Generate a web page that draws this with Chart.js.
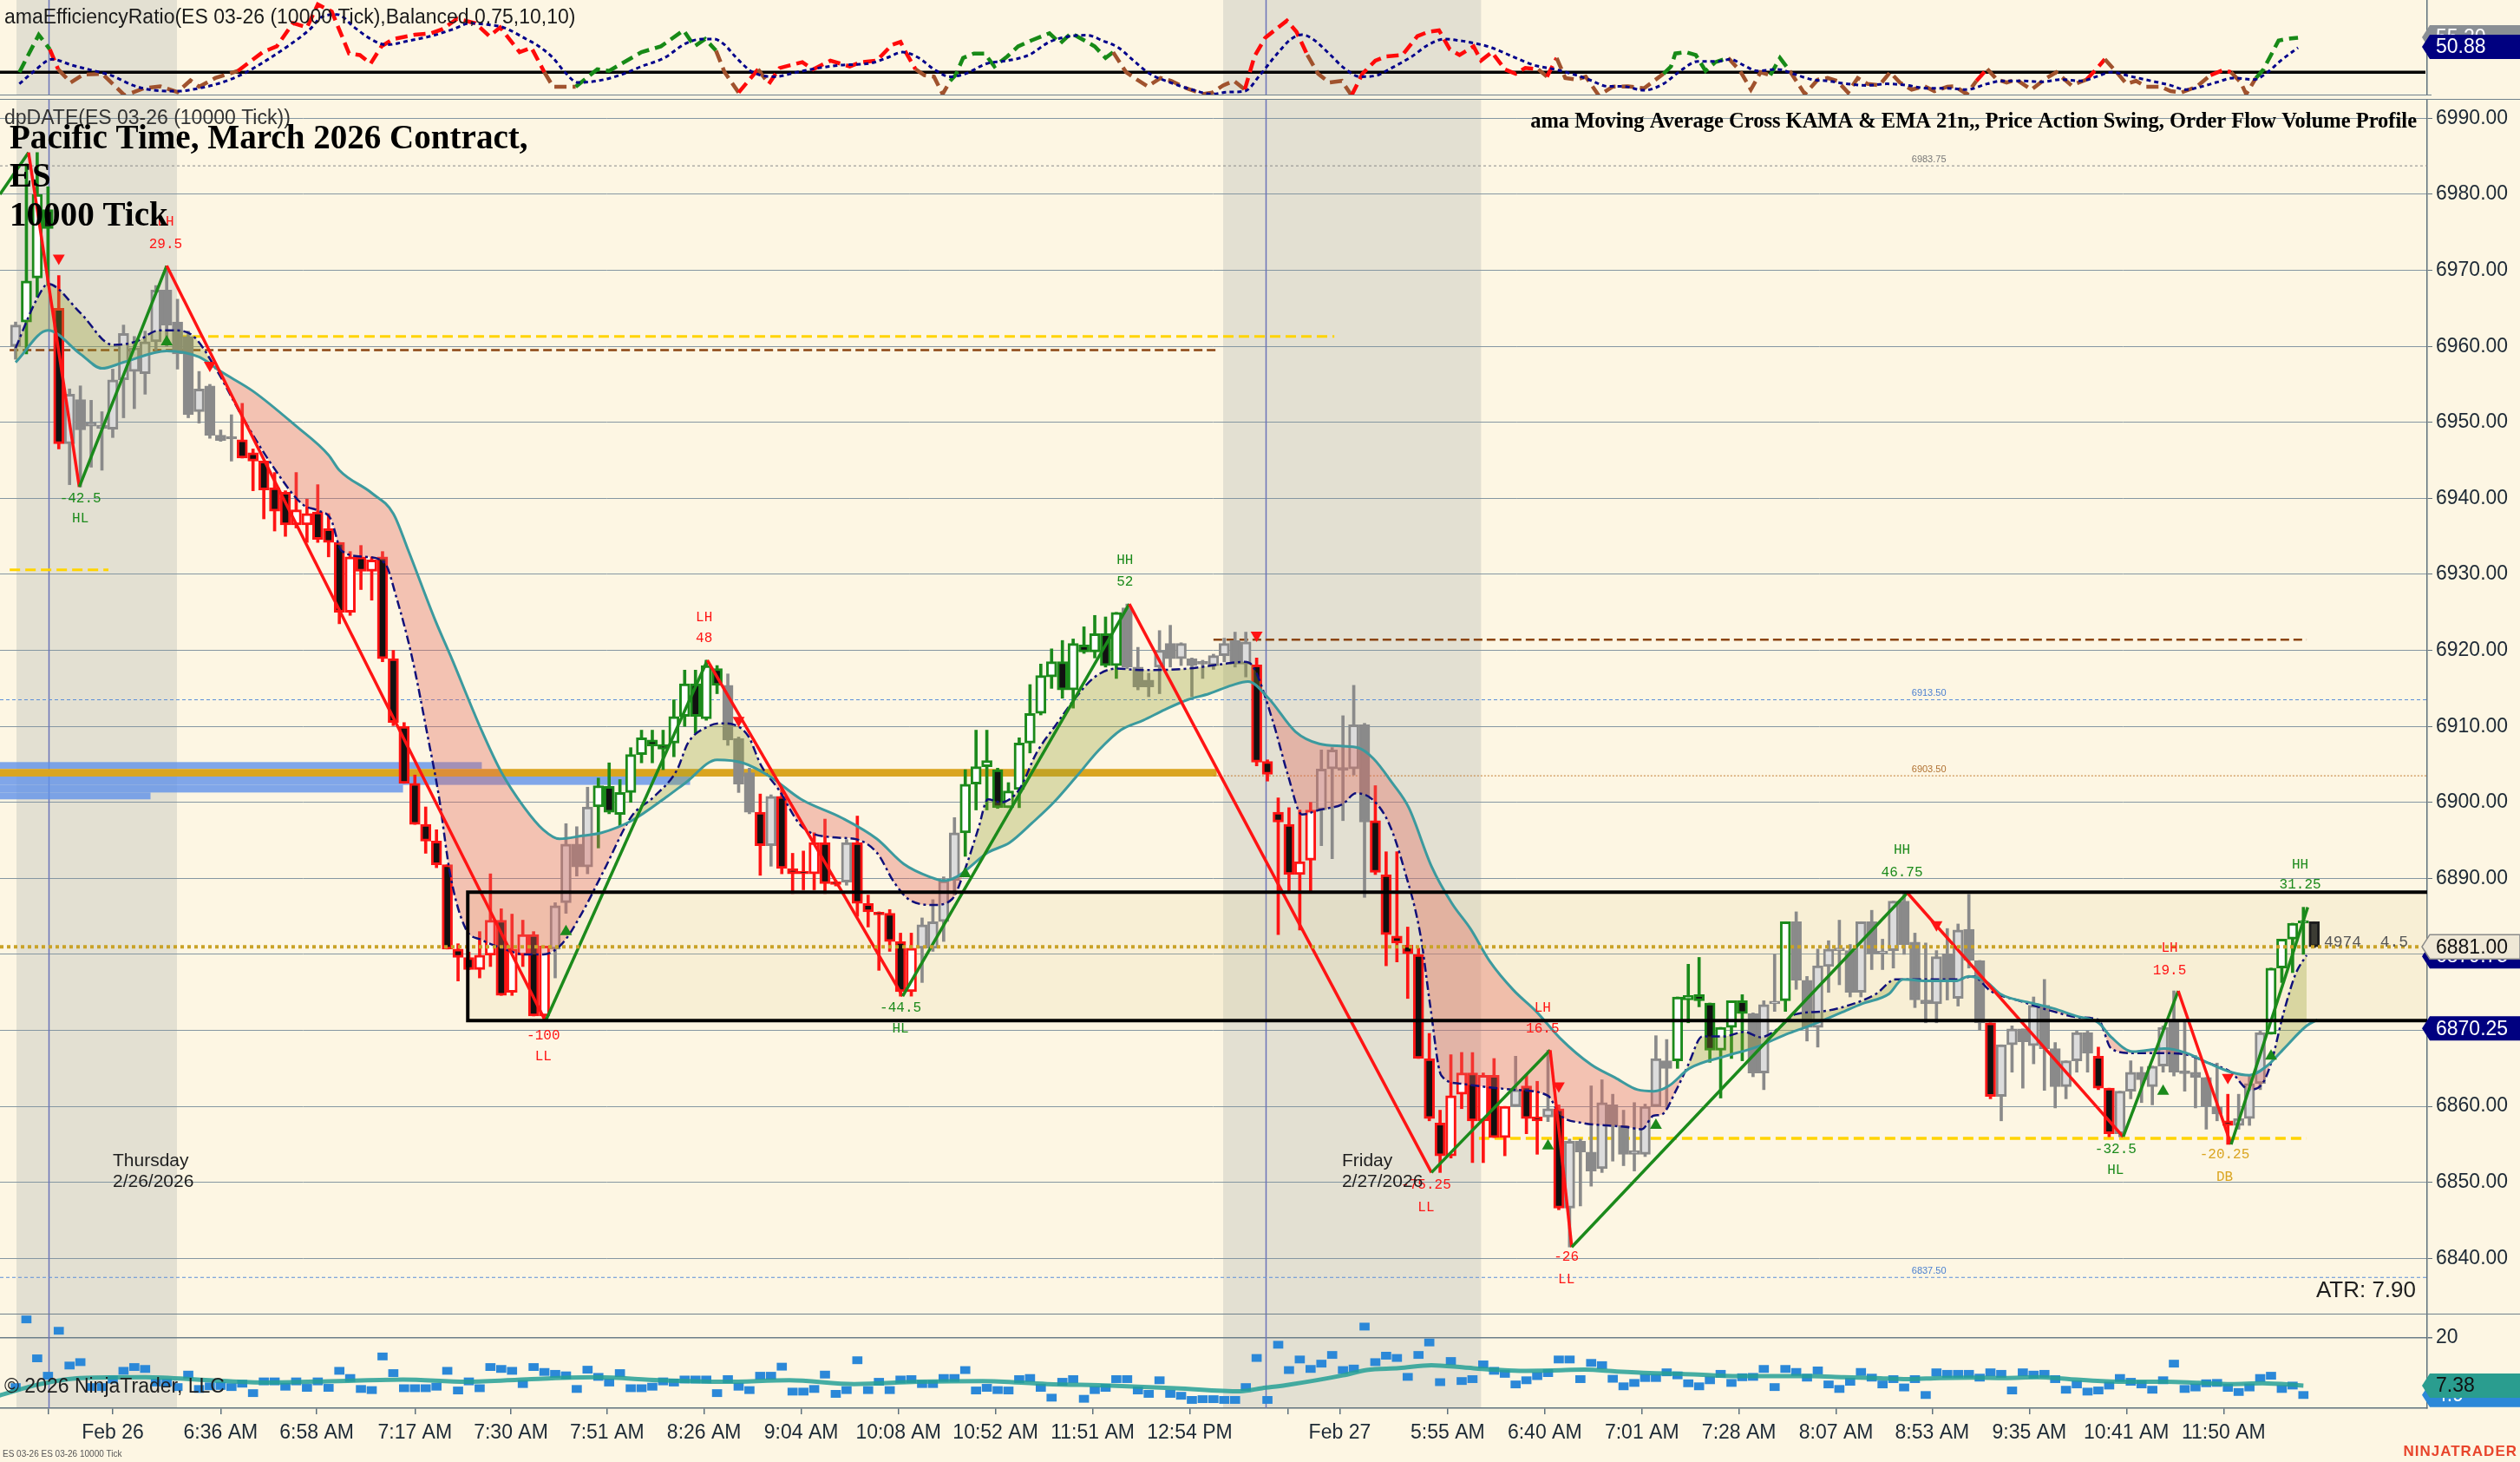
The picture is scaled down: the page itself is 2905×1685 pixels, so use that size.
<!DOCTYPE html>
<html>
<head>
<meta charset="utf-8">
<title>ES 03-26 10000 Tick</title>
<script src="https://cdn.jsdelivr.net/npm/chart.js@4.4.1/dist/chart.umd.min.js"></script>
<style>
  html, body { margin: 0; padding: 0; background: #fdf6e3; overflow: hidden; }
  #wrap { position: relative; width: 2905px; height: 1685px; }
  #wrap canvas { position: absolute; left: 0; }
  .sep { position: absolute; left: 0; height: 1px; background: #6f818c; }
</style>
</head>
<body>
<div id="wrap">
  <canvas id="erChart" width="2905" height="110" style="top:0px"></canvas>
  <canvas id="priceChart" width="2905" height="1400" style="top:115px"></canvas>
  <canvas id="volChart" width="2905" height="170" style="top:1515px"></canvas>
  <div class="sep" style="top:109px;width:2803px"></div>
  <div class="sep" style="top:114px;width:2905px"></div>
  <div class="sep" style="top:1514px;width:2905px"></div>
</div>
<script>
// ---------- data (bar index 0 = first bar on screen) ----------
const openP = [
  6960.0,6963.2,6969.0,6978.0,6965.0,6947.2,6953.0,6949.5,6949.2,6949.1,
  6955.6,6956.7,6956.4,6960.6,6967.4,6963.2,6961.3,6951.4,6954.8,6948.3,
  6948.0,6947.7,6946.0,6944.9,6941.4,6940.8,6936.5,6936.5,6938.2,6936.0,
  6934.2,6925.0,6932.3,6930.4,6932.3,6918.9,6910.0,6902.5,6897.1,6894.9,
  6891.8,6880.7,6879.6,6878.0,6879.9,6884.5,6875.0,6879.9,6882.6,6871.9,
  6880.7,6886.8,6894.5,6891.5,6899.4,6902.1,6898.4,6901.3,6906.3,6908.2,
  6907.6,6907.8,6911.3,6915.6,6911.0,6917.6,6915.4,6908.4,6903.9,6898.7,
  6894.3,6900.8,6891.3,6890.8,6890.6,6894.7,6889.5,6889.5,6894.7,6886.7,
  6885.4,6885.4,6881.7,6875.1,6880.8,6880.8,6884.3,6889.7,6896.0,6902.4,
  6904.7,6904.3,6899.3,6901.7,6907.8,6911.7,6916.5,6918.5,6914.8,6920.7,
  6919.8,6922.2,6918.0,6925.6,6917.8,6916.1,6917.8,6920.9,6918.9,6918.9,
  6918.4,6918.0,6919.3,6921.3,6918.2,6918.1,6905.4,6898.7,6897.1,6890.5,
  6892.4,6899.0,6904.4,6904.6,6904.4,6910.2,6897.6,6890.5,6882.4,6881.2,
  6880.0,6866.3,6857.8,6853.5,6861.6,6864.4,6858.1,6864.1,6855.9,6860.0,
  6862.7,6858.6,6858.6,6859.7,6846.6,6855.4,6854.0,6851.8,6860.2,6857.5,
  6853.7,6853.7,6860.0,6866.0,6866.0,6874.0,6874.7,6873.6,6867.4,6870.4,
  6873.9,6872.2,6864.4,6873.5,6873.9,6884.3,6876.6,6870.4,6878.4,6880.5,
  6880.5,6875.0,6884.3,6880.1,6880.5,6887.0,6881.6,6874.0,6873.5,6880.1,
  6874.2,6883.3,6879.2,6871.0,6861.3,6868.1,6870.2,6868.0,6873.3,6867.6,
  6862.6,6866.0,6869.7,6866.6,6862.4,6856.4,6862.0,6864.5,6862.6,6865.3,
  6871.4,6864.7,6864.5,6863.8,6860.0,6858.1,6857.5,6858.4,6863.0,6869.5,
  6878.2,6882.0,6884.1,6884.3
];
const highP = [
  6963.2,6984.0,6985.5,6981.0,6969.3,6954.4,6954.8,6952.9,6951.4,6957.0,
  6962.8,6961.3,6962.0,6968.0,6970.6,6966.2,6962.0,6956.7,6955.0,6949.0,
  6951.0,6952.5,6946.5,6944.9,6943.4,6941.0,6943.4,6939.9,6941.8,6938.0,
  6934.2,6933.0,6933.8,6932.3,6933.0,6920.0,6910.5,6903.6,6899.4,6896.4,
  6891.8,6881.4,6880.3,6883.0,6890.6,6886.0,6885.3,6884.5,6883.0,6881.1,
  6886.8,6897.2,6896.8,6902.0,6903.2,6905.2,6903.0,6907.2,6909.5,6909.5,
  6909.5,6913.5,6917.4,6917.4,6918.7,6918.0,6916.9,6908.6,6904.5,6901.1,
  6901.0,6902.1,6893.3,6893.6,6896.0,6897.8,6889.7,6895.1,6898.2,6887.8,
  6885.6,6885.9,6882.8,6882.8,6884.8,6887.2,6890.2,6898.0,6904.3,6909.5,
  6909.5,6904.5,6902.6,6908.5,6915.5,6918.2,6920.2,6921.3,6921.5,6923.1,
  6924.6,6924.4,6925.0,6926.1,6920.4,6917.0,6922.6,6923.3,6921.0,6919.0,
  6918.7,6919.5,6921.6,6922.4,6922.4,6919.0,6905.6,6900.6,6899.3,6899.0,
  6900.0,6906.9,6907.2,6911.4,6915.4,6910.4,6902.2,6893.5,6893.5,6883.6,
  6880.8,6869.6,6859.5,6866.8,6867.1,6867.1,6864.4,6866.3,6860.0,6866.6,
  6864.1,6863.3,6867.4,6860.2,6855.7,6855.7,6862.7,6863.5,6861.6,6859.5,
  6860.5,6860.3,6869.3,6868.8,6874.4,6878.7,6879.6,6873.6,6870.4,6873.9,
  6874.7,6872.3,6873.9,6880.0,6884.3,6885.6,6877.1,6880.7,6881.8,6884.5,
  6881.3,6884.3,6885.8,6882.0,6887.0,6888.1,6882.8,6881.5,6880.5,6883.4,
  6884.0,6887.9,6879.2,6871.0,6868.1,6870.6,6870.2,6874.4,6876.7,6868.4,
  6866.0,6869.9,6869.9,6867.8,6862.4,6862.0,6866.0,6865.2,6865.3,6870.6,
  6875.2,6871.4,6866.7,6863.8,6865.7,6861.6,6861.6,6864.1,6869.9,6878.2,
  6882.0,6884.1,6886.2,6884.3
];
const lowP = [
  6958.3,6959.0,6966.5,6968.0,6946.5,6941.8,6941.5,6944.1,6943.7,6948.0,
  6950.6,6951.8,6953.7,6959.5,6960.0,6957.0,6950.6,6949.9,6947.9,6947.5,
  6944.9,6945.3,6941.0,6937.3,6935.7,6935.0,6936.1,6934.2,6934.2,6932.3,
  6923.5,6924.6,6928.0,6926.6,6918.5,6910.1,6902.5,6897.1,6893.3,6891.4,
  6880.7,6876.5,6878.0,6876.9,6878.4,6874.6,6874.6,6878.4,6871.9,6871.2,
  6876.9,6885.4,6890.3,6890.6,6894.0,6898.5,6896.9,6900.0,6905.2,6905.2,
  6904.3,6906.0,6910.0,6909.1,6910.8,6914.3,6907.5,6901.3,6898.5,6890.4,
  6891.6,6890.6,6888.0,6888.5,6888.5,6888.0,6889.0,6889.1,6885.0,6883.6,
  6877.9,6880.4,6874.5,6874.5,6876.3,6880.4,6881.7,6887.8,6892.9,6899.0,
  6899.0,6899.2,6899.3,6899.3,6906.5,6911.5,6915.0,6913.7,6912.4,6919.6,
  6919.0,6917.8,6916.3,6917.6,6914.8,6913.9,6914.3,6917.8,6918.0,6913.9,
  6916.3,6917.5,6918.5,6917.8,6916.5,6904.8,6902.8,6882.6,6888.3,6883.2,
  6888.3,6894.3,6892.6,6897.6,6903.6,6887.5,6890.5,6878.5,6879.0,6874.2,
  6866.3,6858.1,6851.3,6853.2,6859.7,6852.6,6852.6,6855.9,6853.5,6860.0,
  6856.4,6853.7,6858.0,6846.4,6841.5,6846.9,6849.5,6851.3,6852.8,6852.2,
  6851.5,6853.4,6860.0,6859.7,6865.0,6871.0,6873.1,6865.8,6861.1,6866.3,
  6866.0,6863.9,6862.2,6872.5,6872.5,6875.4,6868.6,6867.8,6875.0,6876.0,
  6874.4,6874.4,6878.0,6878.0,6878.2,6880.0,6873.0,6871.0,6871.0,6874.0,
  6873.2,6878.2,6870.0,6861.0,6858.1,6864.5,6862.4,6865.6,6862.1,6859.8,
  6861.0,6864.5,6864.5,6862.2,6856.0,6856.0,6861.0,6860.5,6860.2,6864.5,
  6864.0,6862.0,6859.8,6857.0,6858.1,6855.0,6857.0,6857.5,6862.2,6869.5,
  6876.3,6877.6,6880.0,6880.9
];
const closeP = [
  6962.8,6968.6,6980.0,6975.5,6947.2,6953.7,6949.0,6950.0,6949.6,6955.6,
  6961.7,6959.8,6960.6,6967.4,6962.8,6959.0,6951.0,6954.4,6948.3,6947.6,
  6947.8,6945.3,6944.9,6941.1,6938.3,6936.5,6938.5,6938.0,6934.6,6934.2,
  6925.0,6932.3,6930.4,6931.9,6918.9,6910.5,6902.5,6897.1,6894.9,6891.8,
  6880.7,6879.6,6878.0,6879.9,6884.5,6874.6,6880.7,6882.6,6871.9,6881.1,
  6886.4,6894.5,6891.5,6899.4,6902.2,6898.7,6901.3,6906.3,6908.5,6907.4,
  6907.0,6911.3,6915.6,6911.3,6918.0,6915.4,6908.2,6902.4,6898.7,6894.3,
  6900.8,6891.3,6890.6,6890.6,6894.7,6889.3,6889.2,6894.7,6886.7,6885.6,
  6885.2,6881.7,6875.1,6880.8,6883.9,6884.3,6889.7,6896.0,6902.4,6904.7,
  6905.5,6899.3,6901.5,6907.8,6911.7,6916.7,6918.5,6914.8,6920.9,6919.8,
  6922.2,6918.0,6925.0,6917.8,6915.2,6915.2,6920.0,6918.9,6920.9,6918.0,
  6918.2,6919.3,6920.9,6918.2,6921.1,6905.3,6903.7,6897.4,6890.5,6892.2,
  6899.0,6904.4,6906.9,6904.2,6910.2,6897.4,6890.8,6882.6,6881.5,6880.1,
  6866.3,6858.4,6853.5,6861.4,6864.4,6858.1,6864.1,6855.9,6860.0,6862.2,
  6858.4,6858.1,6859.7,6846.6,6855.4,6854.0,6851.5,6860.5,6857.5,6853.7,
  6854.2,6860.0,6866.3,6865.0,6874.4,6874.6,6873.9,6867.4,6870.4,6873.9,
  6872.2,6864.4,6873.4,6873.7,6884.3,6876.6,6870.4,6878.5,6880.7,6880.7,
  6875.0,6884.3,6880.1,6880.3,6887.0,6881.3,6874.0,6873.5,6879.7,6876.7,
  6883.2,6879.2,6871.0,6861.3,6868.1,6870.2,6868.5,6873.3,6867.6,6862.6,
  6866.0,6869.7,6867.0,6862.4,6856.4,6862.0,6864.5,6863.5,6865.3,6870.4,
  6864.5,6864.3,6863.8,6860.0,6859.0,6857.5,6858.4,6863.0,6869.7,6878.2,
  6882.0,6884.1,6884.3,6881.0
];
// trend colour of each bar: g = up trend, r = down trend, n = neutral, k = current bar
const barTrend =
  'ngggr' + 'nnnnnnnnnnnnnnnn' + 'rrrrrrrrrrrrrrrrrrrrrrrrrrrrr' + 'nnnn' +
  'gggggggggggg' + 'nnn' + 'r' + 'n' + 'rrrrrr' + 'n' + 'rrrrrr' + 'nnnn' +
  'ggggggggggggggg' + 'nnnnnnnnnnnn' + 'rrrrrr' + 'nnnnn' + 'rrrrrrrrrrrrr' +
  'n' + 'rr' + 'n' + 'r' + 'nnnnnnnnnn' + 'ggggggg' + 'nnn' + 'g' +
  'nnnnnnnnnnnnnnnnnn' + 'r' + 'nnnnnnnnn' + 'rr' + 'nnnnnnnnnn' + 'r' + 'nnn' + 'gggg' + 'k';

// EMA 21 and KAMA, [bar, price]
const emaPts = [
  [0,6957.9],[3,6962.1],[6,6959.0],[8,6957.1],[10,6957.9],[14,6959.4],[17,6958.6],[19,6956.7],
  [22,6954.1],[26,6949.5],[29,6945.7],[30,6943.7],[33,6940.7],[35,6938.0],[36.4,6933.1],
  [38.9,6923.9],[40.3,6919.3],[43.2,6909.4],[45,6904.0],[47.1,6899.4],[48.9,6896.4],[50.4,6895.2],
  [52.5,6895.6],[54.3,6896.0],[57.1,6897.6],[60.4,6900.8],[62.1,6902.6],[65,6905.6],[67.4,6905.2],
  [69.9,6903.4],[72.8,6900.4],[76.5,6898.0],[79.8,6895.2],[82.3,6891.9],[84.7,6890.2],[86,6889.7],
  [87.2,6890.2],[90.1,6893.4],[92.1,6894.7],[94.2,6897.3],[96.2,6900.0],[98.3,6903.4],[100.4,6906.9],
  [102.4,6909.5],[104.5,6910.8],[106.5,6912.2],[108.6,6913.5],[110.6,6914.3],[112.7,6915.4],
  [114.2,6915.9],[116.1,6913.7],[118.6,6909.3],[120.8,6907.7],[123,6907.4],[124.4,6907.2],
  [125.8,6905.8],[127.6,6902.5],[129.1,6899.3],[131.2,6891.6],[133.1,6886.7],[134.8,6883.4],
  [136.6,6879.1],[138.8,6875.3],[140.9,6872.5],[143.1,6869.0],[146,6865.5],[148.2,6863.8],
  [150.3,6862.2],[151.8,6862.0],[153.2,6862.7],[155.1,6865.0],[158.4,6866.6],[161.3,6867.8],
  [164.1,6869.5],[166.2,6870.6],[169.1,6872.3],[171.1,6873.5],[173.6,6874.8],[174.9,6876.7],
  [177.3,6876.5],[179.8,6876.5],[181,6877.1],[182.7,6876.3],[183.9,6874.8],[186.8,6873.6],
  [188.8,6872.9],[190.9,6871.9],[193,6871.0],[194.2,6869.1],[196.2,6867.2],[199.1,6867.6],
  [201.2,6867.0],[203.2,6865.7],[205.3,6864.5],[207,6864.1],[208.6,6865.3],[210.2,6867.6],
  [212.3,6870.6],[213.3,6871.4]
];
const kamaPts = [
  [0,6959.8],[2,6966.3],[3,6968.2],[6,6964.4],[9,6960.2],[11.1,6960.6],[13.3,6962.1],[14.7,6962.1],
  [16.5,6961.3],[18.7,6956.7],[20.9,6951.0],[23.7,6944.5],[26.6,6939.2],[28,6938.4],[29.2,6937.3],
  [30.2,6933.1],[32.4,6932.3],[34.2,6931.5],[35.3,6926.9],[36.7,6919.3],[38.2,6908.6],[39.2,6901.0],
  [40.3,6890.3],[41.7,6883.4],[43.2,6881.9],[45.3,6880.7],[47.1,6880.0],[48.9,6880.0],[50.7,6881.5],
  [52.5,6885.5],[54.5,6891.0],[57.1,6898.2],[59.2,6900.8],[61.3,6904.3],[62.3,6907.8],[64.2,6910.0],
  [65.4,6910.4],[66.6,6910.2],[67.9,6908.7],[69.1,6904.8],[70.7,6901.7],[72.8,6896.9],[75.7,6895.4],
  [77.7,6895.2],[79.8,6893.4],[81.4,6889.5],[82.7,6887.3],[85.1,6886.5],[86.8,6887.3],[88,6891.3],
  [89.2,6896.5],[90.1,6900.4],[91.3,6900.0],[93,6901.7],[94.6,6906.5],[96.3,6910.0],[98.3,6913.9],
  [100,6916.5],[102,6917.6],[104.5,6917.4],[108.6,6917.6],[111.9,6918.2],[113.9,6918.5],[114.7,6917.8],
  [116.5,6910.7],[117.9,6903.6],[119.2,6898.4],[120.8,6899.0],[123,6899.8],[124.2,6901.2],[125.8,6900.3],
  [127.3,6897.1],[128.7,6891.1],[130.2,6882.4],[131.1,6873.1],[132.1,6864.1],[133.8,6863.0],
  [136.6,6862.5],[138.8,6862.2],[142,6861.4],[143.1,6858.9],[145.3,6857.8],[147.4,6857.5],
  [149.2,6857.3],[150.7,6857.0],[151.8,6858.8],[152.5,6858.9],[153.9,6862.2],[155,6865.5],
  [156.3,6869.2],[158.3,6869.2],[160.2,6869.8],[161.7,6869.1],[163.3,6870.2],[164.9,6872.1],
  [167.4,6872.5],[170.3,6873.5],[172.4,6874.8],[174.2,6876.7],[176.5,6876.7],[179.8,6876.7],
  [181.4,6877.1],[183,6875.2],[185.9,6873.8],[188.8,6872.5],[191.3,6871.7],[193,6871.4],
  [194.2,6867.6],[196.2,6867.0],[199.1,6867.0],[201.2,6866.8],[203.2,6865.7],[205.3,6864.5],
  [207,6862.2],[208.2,6863.0],[209,6865.7],[210.2,6872.5],[211.3,6877.5],[212.3,6879.9]
];

// price action swing pivots [bar, price]
const swingPts = [
  [-1.45,6980.0],[1.2,6985.5],[5.9,6941.5],[14.0,6970.6],[49.1,6871.2],[64.1,6918.7],
  [82.2,6874.5],[103.2,6926.1],[131.2,6851.3],[142.2,6867.4],[144.2,6841.5],[175.3,6888.1],
  [195.3,6856.0],[200.4,6875.2],[205.3,6855.0],[212.4,6886.2]
];
// swing labels [bar, upper text, lower text, upper price, lower price, colour key]
const swingLbl = [
  [13.9,'LH','29.5',6976.4,6973.4,'r'],
  [6.0,'-42.5','HL',6940.0,6937.3,'g'],
  [63.8,'LH','48',6924.3,6921.6,'r'],
  [48.9,'-100','LL',6869.3,6866.6,'r'],
  [102.8,'HH','52',6931.8,6929.0,'g'],
  [82.0,'-44.5','HL',6872.9,6870.2,'g'],
  [130.7,'-75.25','LL',6849.7,6846.7,'r'],
  [141.5,'LH','16.5',6872.9,6870.2,'r'],
  [143.7,'-26','LL',6840.2,6837.2,'r'],
  [174.8,'HH','46.75',6893.7,6890.7,'g'],
  [194.6,'-32.5','HL',6854.3,6851.6,'g'],
  [199.6,'LH','19.5',6880.8,6877.8,'r'],
  [204.7,'-20.25','DB',6853.7,6850.7,'o'],
  [211.7,'HH','31.25',6891.8,6889.2,'g']
];
// MA cross signals [bar, price]
const crossUp = [[14,6960.6],[51,6883.0],[88,6890.6],[142,6854.8],[152,6857.5],[199,6862.0],[209,6866.6]];
const crossDown = [[4,6971.6],[18,6957.5],[67,6910.8],[115,6922.0],[143,6862.7],[178,6883.9],[205,6863.8]];

// horizontal levels
const levelPrice = [6983.75, 6961.3, 6959.5, 6930.6, 6921.4, 6913.5, 6903.5, 6855.8, 6837.5];
const levelFrom  = [-1.447, 14.95, -0.55, -0.55, 111.0, -1.447, 111.0, 135.6, -1.447];
const levelTo    = [223.47, 122.2, 111.3, 8.6, 212.3, 223.47, 223.47, 212.3, 223.47];
const levelTags  = [[6983.75,'6983.75'],[6913.5,'6913.50'],[6903.5,'6903.50'],[6837.5,'6837.50']];
const lastPrice = 6881.0;
const boxTop = 6888.2, boxBottom = 6871.3, boxFrom = 41.9;

// order flow volume profile rows [low, high, extends to bar]
const vpLow  = [6904.4, 6902.3, 6901.3, 6900.4];
const vpHigh = [6905.3, 6903.4, 6902.3, 6901.3];
const vpTo   = [43.2, 62.5, 35.9, 12.5];
const pocLow = 6903.4, pocHigh = 6904.4, pocTo = 111.3;

// sessions and day breaks
const sessionFrom = [0.08, 111.9];
const sessionTo   = [14.95, 135.8];
const dayLines    = [3.05, 115.8];
const dateLbl = [[9.0,'Thursday','2/26/2026'],[122.9,'Friday','2/27/2026']];

// efficiency ratio panel [bar, value, colour]
const erLine = [
  [0.35,39.5,'g'],[2.14,56.3,'g'],[3.17,49.8,'g'],[3.94,40.8,'r'],[5.1,34.9,'b'],[6.24,38.4,'b'],
  [8.04,38.8,'b'],[10.1,29.1,'b'],[11.9,32.3,'b'],[13.4,33.2,'b'],[15,30.6,'b'],[16.2,35.8,'b'],
  [17,33.0,'b'],[18.5,36.9,'b'],[20.6,40.1,'b'],[22.9,48.5,'r'],[24.2,51.1,'r'],[25.7,61.5,'r'],
  [27,59.6,'r'],[28,69.9,'r'],[29.3,66.7,'r'],[30.9,47.9,'r'],[31.9,47.2,'r'],[32.9,43.4,'r'],
  [33.9,51.1,'r'],[35,54.4,'r'],[37,56.3,'r'],[38.5,57.0,'r'],[39.6,58.9,'r'],[40.9,63.5,'r'],
  [42.6,61.5,'r'],[43.9,55.7,'r'],[44.9,59.6,'r'],[46.7,48.5,'r'],[47.8,50.5,'r'],[49.0,39.5,'r'],
  [49.8,33.0,'b'],[51.9,33.0,'b'],[53.9,40.8,'g'],[55,40.1,'g'],[58,48.5,'g'],[59.8,51.1,'g'],
  [61.9,58.3,'g'],[62.9,51.1,'g'],[63.9,54.4,'g'],[64.9,49.2,'g'],[65.7,39.5,'b'],[67,30.4,'b'],
  [68.8,40.8,'r'],[69.8,34.3,'b'],[70.8,41.4,'r'],[72.9,44.0,'r'],[73.9,40.8,'r'],[75.5,44.7,'r'],
  [77.3,42.1,'r'],[78.3,44.0,'r'],[79.8,44.7,'r'],[81.2,51.8,'r'],[82,53.1,'r'],[82.4,49.2,'r'],
  [83.4,40.8,'r'],[84.2,38.2,'b'],[85.1,37.5,'b'],[85.9,29.7,'b'],[86.6,35.6,'b'],[87.1,38.2,'g'],
  [87.8,45.9,'g'],[88.8,47.9,'g'],[89.8,47.9,'g'],[90.7,42.1,'g'],[91.9,46.6,'g'],[92.9,51.1,'g'],
  [94.1,53.7,'g'],[95.8,57.0,'g'],[96.8,52.4,'g'],[97.8,57.0,'g'],[98.8,54.4,'g'],[100,51.1,'g'],
  [101,45.9,'g'],[101.7,48.5,'g'],[102.9,39.5,'b'],[103.9,36.2,'b'],[104.9,33.2,'b'],[106.1,36.9,'b'],
  [107.1,35.6,'b'],[108.5,32.3,'b'],[110,29.7,'b'],[110.9,30.4,'b'],[111.9,33.6,'b'],[112.9,35.6,'b'],
  [113.9,31.7,'b'],[114.8,46.6,'r'],[115.8,55.0,'r'],[117.8,62.6,'r'],[118.7,57.6,'r'],[119.7,47.2,'r'],
  [120.7,38.8,'b'],[121.7,34.9,'b'],[122.9,35.6,'b'],[123.8,29.1,'b'],[124.8,38.8,'r'],[126,44.7,'r'],
  [127,46.6,'r'],[128.5,47.2,'r'],[129.9,55.7,'r'],[130.9,57.6,'r'],[131.9,58.3,'r'],[132.9,49.8,'r'],
  [133.8,47.2,'r'],[135.1,51.1,'r'],[135.8,44.7,'r'],[136.8,48.5,'r'],[138,40.8,'r'],[139,38.8,'r'],
  [139.9,41.4,'r'],[141.1,40.8,'r'],[141.9,37.5,'b'],[142.8,45.9,'r'],[143.6,36.9,'b'],[144.6,36.2,'b'],
  [145.5,37.5,'b'],[146.7,29.1,'b'],[148,33.0,'b'],[149.4,33.2,'b'],[150.9,32.3,'b'],[152.7,38.8,'b'],
  [153.4,42.1,'g'],[153.8,47.9,'g'],[154.8,48.5,'g'],[155.7,47.2,'g'],[156.6,40.1,'g'],[157.5,44.0,'g'],
  [158.7,45.9,'g'],[159.8,40.1,'b'],[160.8,31.7,'b'],[161.7,39.5,'b'],[162.6,38.2,'b'],[163.5,45.9,'g'],
  [164.4,40.1,'g'],[165.8,29.7,'b'],[167,36.2,'b'],[167.9,36.9,'b'],[168.8,35.6,'b'],[169.8,30.4,'b'],
  [170.7,36.9,'b'],[171.6,34.3,'b'],[172.7,33.6,'b'],[173.7,39.5,'b'],[174.6,34.9,'b'],[175.7,31.7,'b'],
  [176.9,33.2,'b'],[177.8,31.0,'b'],[179,33.0,'b'],[179.7,33.2,'b'],[180.8,29.7,'b'],[181.7,35.6,'b'],
  [182.7,41.0,'r'],[183.6,36.2,'b'],[184.5,34.9,'b'],[185.4,36.2,'b'],[186.8,31.7,'b'],[188.2,36.9,'b'],
  [189.1,39.5,'b'],[190.5,33.6,'b'],[191.9,36.2,'b'],[192.8,40.8,'r'],[193.6,45.3,'r'],[194.7,39.5,'b'],
  [195.6,34.3,'b'],[196.5,35.6,'b'],[197.4,33.0,'b'],[198.8,33.0,'b'],[199.7,31.0,'b'],[200.7,30.4,'b'],
  [202.1,33.0,'b'],[203.4,38.2,'b'],[204.6,40.5,'r'],[205.3,39.5,'r'],[206.2,34.9,'b'],[206.7,29.7,'b'],
  [207.6,36.9,'b'],[208.3,40.8,'g'],[209.7,53.7,'g'],[210.4,54.4,'g'],[211.5,55.0,'g']
];
const erSignal = [
  [0.35,34.3],[1.6,39.5],[3.4,45.3],[5.2,42.7],[7.3,40.1],[8.8,38.2],[10.9,33.6],[12.4,31.7],[15,31.0],
  [17,32.3],[19.1,34.9],[21.1,38.8],[23.2,44.7],[25.2,51.1],[27.3,58.9],[28.3,64.1],[29.8,65.4],
  [31.4,59.6],[32.9,54.4],[34.4,51.8],[36.5,53.7],[38.5,55.7],[40.6,58.9],[42.1,61.5],[43.7,60.9],
  [45.2,59.6],[47.3,54.4],[48.5,51.1],[49.8,45.9],[50.9,39.5],[52.1,34.9],[53.9,35.6],[56,38.2],
  [58,42.1],[60.1,45.9],[62.1,52.4],[63.7,54.4],[64.7,54.4],[65.7,51.8],[66.8,45.9],[68.3,39.5],
  [70.3,37.5],[72.4,39.5],[74.4,41.4],[76.5,42.7],[79.3,43.6],[80.7,45.9],[82.2,48.5],[83.7,45.9],
  [85.1,40.8],[86.6,37.5],[88,38.8],[90,43.4],[91.9,44.7],[93.9,47.2],[95.8,53.1],[97.8,55.7],
  [99.3,56.1],[100.7,53.7],[102.2,50.5],[103.6,44.7],[105.1,38.8],[107,34.9],[109,31.7],[110.9,29.7],
  [112.4,30.6],[113.9,31.0],[115.3,38.2],[116.8,47.2],[118.2,54.4],[119.2,56.3],[120.2,54.4],
  [121.7,47.9],[123.1,41.4],[124.6,37.5],[126,37.9],[127.5,41.4],[129.4,46.6],[130.9,51.8],
  [132.4,54.4],[133.8,53.7],[135.3,52.4],[136.8,50.5],[138.7,46.6],[140.7,42.7],[142.6,40.8],
  [144.6,38.2],[146,35.8],[147.5,33.2],[148.9,33.2],[150.9,31.4],[152.7,34.3],[154.1,39.5],
  [155.9,44.4],[157.8,44.4],[158.9,45.3],[160.1,42.7],[161.4,40.1],[163.3,40.8],[164.7,38.8],
  [166.5,36.2],[167.9,35.6],[169.7,34.3],[171.6,33.6],[173.4,34.3],[175.3,33.6],[177.1,32.3],
  [179,32.3],[180.8,31.7],[182.7,34.3],[184.1,35.6],[185.9,35.6],[187.7,35.2],[189.6,36.2],
  [191.4,35.6],[192.8,37.5],[194.2,39.5],[196.1,37.5],[197.9,35.6],[199.7,33.6],[201.1,31.7],
  [202.5,33.0],[203.9,34.9],[205.5,36.9],[207.4,36.2],[208.5,38.8],[209.9,44.7],[211.5,50.5]
];
const erLevel = 39.5;

// lower panel: one square per bar plus its average line
const volSq = [
  7.0,24.9,14.6,10.0,21.9,12.7,13.6,7.0,7.0,9.0,
  11.3,12.3,11.8,8.2,8.2,7.0,10.3,6.5,7.2,7.3,
  7.0,7.9,5.4,8.5,8.5,7.1,8.5,6.8,8.5,6.8,
  11.3,9.4,6.5,6.2,15.1,10.7,6.7,6.7,6.7,7.1,
  11.3,6.1,8.5,6.7,12.3,11.8,11.3,7.8,12.3,11.0,
  10.5,10.1,6.5,11.6,9.7,8.2,10.7,6.7,6.7,7.1,
  8.5,8.2,9.0,9.0,9.0,5.4,9.1,7.1,6.2,10.0,
  10.0,12.4,5.8,5.8,6.5,10.3,5.2,6.2,14.1,6.2,
  8.4,6.2,9.0,9.1,7.8,7.8,9.4,9.4,11.5,6.1,
  6.8,6.2,6.1,9.1,9.4,6.8,4.2,8.4,9.1,3.9,
  6.2,6.8,9.1,9.1,6.1,5.2,8.8,5.2,4.7,3.6,
  3.8,3.8,3.6,3.6,7.0,14.7,3.6,18.2,11.5,14.3,
  11.8,13.2,15.5,11.5,11.9,23.0,13.6,15.3,14.7,9.7,
  15.5,18.8,8.3,13.9,8.6,9.1,13.0,11.3,10.5,7.7,
  8.8,9.9,10.7,14.3,14.3,9.1,13.4,12.8,9.2,7.2,
  8.1,9.4,9.4,10.9,10.1,8.0,7.2,8.8,10.5,8.1,
  9.6,9.7,11.8,7.0,11.8,11.0,9.5,11.4,7.7,6.5,
  8.4,11.0,9.5,7.7,9.1,6.9,9.1,4.9,10.9,10.5,
  10.5,10.5,9.5,10.9,10.5,6.1,10.9,10.3,10.5,9.1,
  6.3,7.7,5.8,6.1,7.4,9.4,8.4,7.7,6.3,8.8,
  13.2,6.5,6.9,8.0,8.1,6.8,5.7,6.9,9.4,10.0,
  6.5,7.4,4.9
];
const volAvg = [
  [-1.5,4.8],[2.3,7.8],[6,9.4],[12,9.6],[18,8.8],[23.2,8.2],[29.9,8.6],[35.9,9.0],[41.8,8.4],
  [47.8,9.1],[53.8,9.6],[59.7,8.8],[65.7,8.4],[71.7,8.8],[77.7,7.8],[83.6,8.4],[89.6,8.6],[95.6,7.8],
  [101.5,7.4],[107.5,6.7],[113.5,5.9],[115.5,6.7],[117.7,7.5],[123,10.1],[125.2,11.5],[128.2,12.0],
  [131.2,12.8],[134.2,12.2],[136.4,11.7],[139.4,11.3],[142.4,11.4],[145.4,11.6],[148.4,11.1],
  [151.4,10.7],[154.4,10.5],[157.4,10.1],[160.4,9.9],[163.4,9.9],[166.4,9.9],[169.4,9.6],[172.3,9.4],
  [175.3,9.1],[178.3,9.4],[181.3,9.5],[184.3,9.4],[187.3,9.6],[190.3,9.1],[193.3,8.6],[196.3,8.4],
  [199.3,8.4],[202.3,8.1],[205.3,7.8],[208.2,8.0],[212,7.4]
];

// time axis
const timeTickPos = [3.0,9.0,19.0,27.9,37.0,45.9,54.8,63.8,72.8,81.8,90.8,99.8,108.8,
                     117.9,122.7,132.7,141.7,150.7,159.7,168.7,177.6,186.6,195.6,204.6];
const timeTickLbl = ['','Feb 26','6:36 AM','6:58 AM','7:17 AM','7:30 AM','7:51 AM','8:26 AM','9:04 AM',
                     '10:08 AM','10:52 AM','11:51 AM','12:54 PM','','Feb 27','5:55 AM','6:40 AM','7:01 AM',
                     '7:28 AM','8:07 AM','8:53 AM','9:35 AM','10:41 AM','11:50 AM'];

// axis markers [value, text, kind]
const priceMarkers = [[6879.75,'6879.75','navy'],[6881.00,'6881.00','last'],[6870.25,'6870.25','navy']];
const erMarkers = [[55.2,'55.20','gray'],[50.88,'50.88','navy']];
const volMarkers = [[4.9,'4.9','blue'],[7.38,'7.38','teal']];

// ---------- look ----------
const X_MIN = -1.447, X_MAX = 223.47;
const AXIS_W = 107;
const SANS = '"Liberation Sans", Arial, sans-serif';
const SERIF = '"Liberation Serif", "Times New Roman", serif';
const MONO = '"Liberation Mono", "DejaVu Sans Mono", monospace';
const OUTLINE = { g: '#1b8a1b', r: '#ff1414', n: '#8a8a8a', k: '#1e1e1e' };
const SWING_COL = { g: '#1b8a1b', r: '#ff1414', o: '#daa520' };
const ER_COL = { g: '#178a17', r: '#ff0a0a', b: '#a0522d' };
const MARKER = {
  navy: ['#000080', '#ffffff', null],
  last: ['#efe8d6', '#111111', '#8a8a8a'],
  gray: ['#8a8f94', '#ffffff', null],
  blue: ['#2b88d8', '#ffffff', null],
  teal: ['#2a9d8f', '#111111', null]
};
const levelColor = ['#8a8a8a','#ffd400','#8b4513','#ffd400','#8b4513','#5b8fd9','#c07a30','#ffd400','#5b8fd9'];
const levelWidth = [1, 3, 2.5, 3, 2.5, 1, 1, 3.5, 1];
const levelDash  = [[3,3],[12,6],[10,5],[12,6],[10,5],[4,3],[2,2],[12,6],[4,3]];
const tagColor = ['#777777','#4a7fd0','#b07030','#4a7fd0'];

Chart.defaults.font.family = SANS;
Chart.defaults.color = '#1d2935';

function fixAxis(s) { s.width = AXIS_W; s.paddingTop = 0; s.paddingBottom = 0; }
function xLinear(extra) {
  return Object.assign({ type: 'linear', min: X_MIN, max: X_MAX, offset: false, display: false, grid: { offset: false } }, extra);
}
const baseOpts = {
  responsive: false, animation: false, devicePixelRatio: 1, events: [],
  layout: { padding: 0, autoPadding: false },
  plugins: { legend: { display: false }, tooltip: { enabled: false } }
};

function axisMarker(ctx, y, text, kind) {
  const [fill, txt, stroke] = MARKER[kind];
  const x0 = 2798, h = 28;
  ctx.beginPath();
  ctx.moveTo(x0 - 6, y);
  ctx.lineTo(x0 + 3, y - h / 2);
  ctx.lineTo(2905, y - h / 2);
  ctx.lineTo(2905, y + h / 2);
  ctx.lineTo(x0 + 3, y + h / 2);
  ctx.closePath();
  ctx.fillStyle = fill;
  ctx.fill();
  if (stroke) { ctx.strokeStyle = stroke; ctx.lineWidth = 1.5; ctx.stroke(); }
  ctx.fillStyle = txt;
  ctx.font = '23px ' + SANS;
  ctx.textAlign = 'left';
  ctx.textBaseline = 'middle';
  ctx.fillText(text, 2808, y + 1);
}

function hLine(ctx, x0, x1, y, color, width, dash) {
  ctx.strokeStyle = color;
  ctx.lineWidth = width;
  ctx.setLineDash(dash);
  ctx.beginPath();
  ctx.moveTo(x0, y);
  ctx.lineTo(x1, y);
  ctx.stroke();
  ctx.setLineDash([]);
}

// grey session background and day separators, shared by the three panels
const sessionPlugin = {
  id: 'sessions',
  beforeDraw(chart) {
    const { ctx, chartArea: a, scales: { x } } = chart;
    ctx.save();
    ctx.fillStyle = '#e3e0d2';
    sessionFrom.forEach((s, k) => {
      const x0 = x.getPixelForValue(s), x1 = x.getPixelForValue(sessionTo[k]);
      ctx.fillRect(x0, a.top, x1 - x0, a.bottom - a.top);
    });
    ctx.restore();
  },
  beforeDatasetsDraw(chart) {
    const { ctx, chartArea: a, scales: { x } } = chart;
    ctx.save();
    ctx.strokeStyle = '#6b74b8';
    ctx.lineWidth = 1.5;
    dayLines.forEach(d => {
      const px = Math.round(x.getPixelForValue(d)) + 0.5;
      ctx.beginPath();
      ctx.moveTo(px, a.top);
      ctx.lineTo(px, a.bottom);
      ctx.stroke();
    });
    ctx.restore();
  }
};

// ---------- efficiency ratio panel ----------
const erOverlay = {
  id: 'erOverlay',
  beforeDatasetsDraw(chart) {
    const { ctx, chartArea: a, scales: { y } } = chart;
    ctx.save();
    hLine(ctx, a.left, a.right - 2, y.getPixelForValue(erLevel), '#000000', 3.5, []);
    ctx.restore();
  },
  afterDraw(chart) {
    const { ctx, scales: { y } } = chart;
    ctx.save();
    ctx.fillStyle = '#1a1a1a';
    ctx.font = '23px ' + SANS;
    ctx.textAlign = 'left';
    ctx.textBaseline = 'middle';
    ctx.fillText('amaEfficiencyRatio(ES 03-26 (10000 Tick),Balanced,0.75,10,10)', 5, 21);
    erMarkers.forEach(m => axisMarker(ctx, y.getPixelForValue(m[0]), m[1], m[2]));
    ctx.restore();
  }
};

new Chart(document.getElementById('erChart'), {
  type: 'line',
  data: {
    datasets: [
      {
        label: 'ER', data: erLine.map(p => ({ x: p[0], y: p[1] })),
        borderWidth: 4.5, borderDash: [14, 7], pointRadius: 0, tension: 0,
        borderColor: ER_COL.b,
        segment: { borderColor: c => ER_COL[erLine[c.p1DataIndex][2]] },
        order: 2
      },
      {
        label: 'signal', data: erSignal.map(p => ({ x: p[0], y: p[1] })),
        borderColor: '#00008b', borderWidth: 3, borderDash: [5, 4], pointRadius: 0,
        cubicInterpolationMode: 'monotone', order: 1
      }
    ]
  },
  options: Object.assign({}, baseOpts, {
    scales: {
      x: xLinear(),
      y: {
        position: 'right', min: 29.09, max: 71.89,
        grid: { display: false }, ticks: { display: false },
        border: { display: true, color: '#5f717d', width: 1.5 },
        afterFit: fixAxis
      }
    }
  }),
  plugins: [sessionPlugin, erOverlay]
});

// ---------- price panel ----------
const barIdx = openP.map((_, i) => i);
function bodyColor(i) {
  const t = barTrend[i], up = closeP[i] >= openP[i];
  if (t === 'k') return '#3c3c34';
  if (t === 'n') return up ? '#dcdcdc' : '#8a8a8a';
  return up ? '#ffffff' : '#111111';
}

const priceOverlay = {
  id: 'priceOverlay',
  beforeDatasetsDraw(chart) {
    const { ctx, chartArea: a, scales: { x, y } } = chart;
    const X = v => x.getPixelForValue(v), Y = v => y.getPixelForValue(v);
    ctx.save();
    ctx.fillStyle = 'rgba(225,205,140,0.16)';
    ctx.fillRect(X(boxFrom), Y(boxTop), a.right - X(boxFrom), Y(boxBottom) - Y(boxTop));
    ctx.fillStyle = 'rgba(96,146,234,0.8)';
    vpLow.forEach((lo, k) => {
      const y0 = Y(vpHigh[k]);
      ctx.fillRect(a.left, y0, X(vpTo[k]) - a.left, Y(lo) - y0);
    });
    ctx.fillStyle = '#daa520';
    ctx.fillRect(a.left, Y(pocHigh), X(pocTo) - a.left, Y(pocLow) - Y(pocHigh));
    levelPrice.forEach((p, k) => {
      hLine(ctx, Math.max(a.left, X(levelFrom[k])), Math.min(a.right, X(levelTo[k])), Y(p),
            levelColor[k], levelWidth[k], levelDash[k]);
    });
    ctx.restore();
  },
  afterDatasetsDraw(chart) {
    const { ctx, chartArea: a, scales: { x, y } } = chart;
    const X = v => x.getPixelForValue(v), Y = v => y.getPixelForValue(v);
    ctx.save();
    hLine(ctx, a.left, a.right - 4, Y(lastPrice), '#c9a227', 4, [4, 4]);
    ctx.strokeStyle = '#000000';
    ctx.lineWidth = 4;
    ctx.beginPath();
    ctx.moveTo(a.right, Y(boxTop));
    ctx.lineTo(X(boxFrom), Y(boxTop));
    ctx.lineTo(X(boxFrom), Y(boxBottom));
    ctx.lineTo(a.right, Y(boxBottom));
    ctx.stroke();
    ctx.restore();
  },
  afterDraw(chart) {
    const { ctx, chartArea: a, scales: { x, y } } = chart;
    const X = v => x.getPixelForValue(v), Y = v => y.getPixelForValue(v);
    ctx.save();
    // level tags
    ctx.font = '11px ' + SANS;
    ctx.textAlign = 'center';
    ctx.textBaseline = 'bottom';
    levelTags.forEach((t, k) => { ctx.fillStyle = tagColor[k]; ctx.fillText(t[1], X(177.3), Y(t[0]) - 2); });
    // swing labels
    ctx.font = '16px ' + MONO;
    ctx.textBaseline = 'middle';
    swingLbl.forEach(s => {
      ctx.fillStyle = SWING_COL[s[5]];
      ctx.fillText(s[1], X(s[0]), Y(s[3]));
      ctx.fillText(s[2], X(s[0]), Y(s[4]));
    });
    // order flow text next to the last bar
    ctx.fillStyle = '#555555';
    ctx.font = '18px ' + MONO;
    ctx.textAlign = 'left';
    ctx.fillText('4974  4.5', X(213.9), Y(6881.6));
    // day labels
    ctx.fillStyle = '#1e1e1e';
    ctx.font = '21px ' + SANS;
    dateLbl.forEach(d => {
      ctx.fillText(d[1], X(d[0]), Y(6852.8));
      ctx.fillText(d[2], X(d[0]), Y(6850.1));
    });
    // indicator names and title
    ctx.font = '23px ' + SANS;
    ctx.fillStyle = '#333333';
    ctx.fillText('dpDATE(ES 03-26 (10000 Tick))', 5, 22);
    const title = ['Pacific Time, March 2026 Contract,', 'ES', '10000 Tick'];
    ctx.font = 'bold 40px ' + SERIF;
    const tSize = 40 * 598 / ctx.measureText(title[0]).width;
    ctx.font = 'bold ' + tSize.toFixed(1) + 'px ' + SERIF;
    ctx.fillStyle = '#000000';
    ctx.textBaseline = 'alphabetic';
    ctx.fillText(title[0], 11, 56);
    ctx.fillText(title[1], 11, 100);
    ctx.fillText(title[2], 11, 145);
    const sub = 'ama Moving Average Cross KAMA & EMA 21n,, Price Action Swing, Order Flow Volume Profile';
    ctx.font = 'bold 24px ' + SERIF;
    const sSize = 24 * 1021 / ctx.measureText(sub).width;
    ctx.font = 'bold ' + sSize.toFixed(1) + 'px ' + SERIF;
    ctx.textAlign = 'right';
    ctx.fillText(sub, 2786, 32);
    // ATR
    ctx.font = '26px ' + SANS;
    ctx.fillStyle = '#1e1e1e';
    ctx.textBaseline = 'middle';
    ctx.fillText('ATR: 7.90', a.right - 13, a.bottom - 27);
    // axis markers
    priceMarkers.forEach(m => axisMarker(ctx, Y(m[0]), m[1], m[2]));
    ctx.restore();
  }
};

new Chart(document.getElementById('priceChart'), {
  type: 'bar',
  data: {
    datasets: [
      {
        label: 'wick', data: barIdx.map(i => ({ x: i, y: [lowP[i], highP[i]] })),
        backgroundColor: barIdx.map(i => OUTLINE[barTrend[i]]),
        borderWidth: 0, barThickness: 3, grouped: false, order: 20
      },
      {
        label: 'body', data: barIdx.map(i => ({ x: i, y: [openP[i], closeP[i]] })),
        backgroundColor: barIdx.map(bodyColor),
        borderColor: barIdx.map(i => OUTLINE[barTrend[i]]),
        borderWidth: 3, borderSkipped: false, barThickness: 12, minBarLength: 3, grouped: false, order: 19
      },
      {
        type: 'line', label: 'EMA 21', data: emaPts.map(p => ({ x: p[0], y: p[1] })),
        borderColor: '#3b9a9e', borderWidth: 3, pointRadius: 0, cubicInterpolationMode: 'monotone', order: 11
      },
      {
        type: 'line', label: 'KAMA', data: kamaPts.map(p => ({ x: p[0], y: p[1] })),
        borderColor: '#10107a', borderWidth: 2.5, borderDash: [10, 4, 3, 4], pointRadius: 0,
        cubicInterpolationMode: 'monotone',
        fill: { target: 2, above: 'rgba(150,160,50,0.32)', below: 'rgba(225,105,95,0.37)' },
        order: 12
      },
      {
        type: 'line', label: 'swing', data: swingPts.map(p => ({ x: p[0], y: p[1] })),
        borderColor: '#ff1414', borderWidth: 3.5, pointRadius: 0, tension: 0,
        segment: { borderColor: c => (c.p1.parsed.y > c.p0.parsed.y ? '#1b8a1b' : '#ff1414') },
        order: 5
      },
      {
        type: 'scatter', label: 'cross up', data: crossUp.map(p => ({ x: p[0], y: p[1] })),
        pointStyle: 'triangle', pointRadius: 8, backgroundColor: '#1b8a1b', borderWidth: 0, order: 3
      },
      {
        type: 'scatter', label: 'cross down', data: crossDown.map(p => ({ x: p[0], y: p[1] })),
        pointStyle: 'triangle', rotation: 180, pointRadius: 8, backgroundColor: '#ff1414', borderWidth: 0, order: 3
      }
    ]
  },
  options: Object.assign({}, baseOpts, {
    scales: {
      x: xLinear(),
      y: {
        position: 'right', min: 6832.62, max: 6992.44, stacked: false,
        grid: { color: '#8597a2', lineWidth: 1, tickLength: 6, tickColor: '#5f717d' },
        border: { display: true, color: '#5f717d', width: 1.5 },
        ticks: {
          stepSize: 10, includeBounds: false, autoSkip: false, padding: 4,
          font: { size: 23 }, color: '#1d2935', callback: v => v.toFixed(2)
        },
        afterFit: fixAxis
      }
    }
  }),
  plugins: [sessionPlugin, priceOverlay]
});

// ---------- lower panel ----------
const volOverlay = {
  id: 'volOverlay',
  afterDraw(chart) {
    const { ctx, scales: { y } } = chart;
    ctx.save();
    ctx.fillStyle = '#1e1e1e';
    ctx.font = '23px ' + SANS;
    ctx.textAlign = 'left';
    ctx.textBaseline = 'middle';
    ctx.fillText('\u00a9 2026 NinjaTrader, LLC', 5, 84);
    ctx.fillStyle = '#555555';
    ctx.font = '10px ' + SANS;
    ctx.fillText('ES 03-26 ES 03-26 10000 Tick', 3, 161);
    ctx.fillStyle = '#e8452c';
    ctx.font = 'bold 17px ' + SANS;
    ctx.textAlign = 'right';
    ctx.letterSpacing = '1px';
    ctx.fillText('NINJATRADER', 2902, 158);
    ctx.letterSpacing = '0px';
    volMarkers.forEach(m => axisMarker(ctx, y.getPixelForValue(m[0]), m[1], m[2]));
    ctx.restore();
  }
};

new Chart(document.getElementById('volChart'), {
  type: 'bar',
  data: {
    datasets: [
      {
        label: 'squares',
        data: volSq.map((v, i) => ({ x: i, y: [v - 0.95, v + 0.95] })),
        backgroundColor: '#2b88d8', borderWidth: 0, barThickness: 11, grouped: false, order: 2
      },
      {
        type: 'line', label: 'average', data: volAvg.map(p => ({ x: p[0], y: p[1] })),
        borderColor: 'rgba(38,160,150,0.85)', borderWidth: 5, pointRadius: 0,
        cubicInterpolationMode: 'monotone', order: 1
      }
    ]
  },
  options: Object.assign({}, baseOpts, {
    scales: {
      x: xLinear({
        display: true, position: 'bottom',
        grid: { display: true, drawOnChartArea: false, drawTicks: true, tickLength: 7, color: '#5f717d', lineWidth: 1.5, offset: false },
        border: { display: true, color: '#5f717d', width: 1.5 },
        ticks: {
          autoSkip: false, maxRotation: 0, minRotation: 0, padding: 8,
          font: { size: 23 }, color: '#1d2935', callback: (v, i) => timeTickLbl[i]
        },
        afterBuildTicks: s => { s.ticks = timeTickPos.map(v => ({ value: v })); },
        afterFit: s => { s.height = 62; s.paddingLeft = 0; s.paddingRight = 0; }
      }),
      y: {
        position: 'right', min: 1.41, max: 26.2, stacked: false,
        grid: { color: '#6d7f8a', lineWidth: 1.5, tickLength: 6, tickColor: '#5f717d' },
        border: { display: true, color: '#5f717d', width: 1.5 },
        ticks: { padding: 4, font: { size: 23 }, color: '#1d2935', callback: v => String(v) },
        afterBuildTicks: s => { s.ticks = [{ value: 20 }]; },
        afterFit: fixAxis
      }
    }
  }),
  plugins: [sessionPlugin, volOverlay]
});
</script>
</body>
</html>
